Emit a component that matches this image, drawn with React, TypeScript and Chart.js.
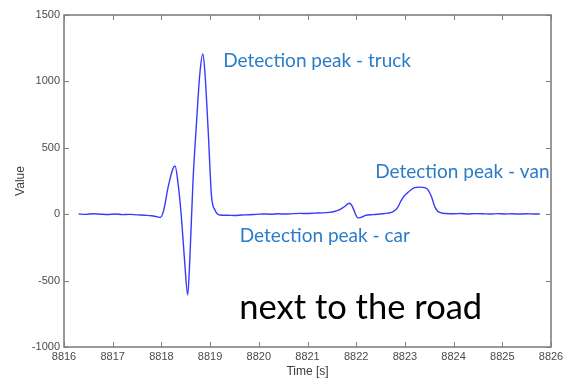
import React, { useEffect, useRef } from "react";
import { Chart, registerables } from "chart.js";

Chart.register(...registerables);

// Sensor trace: time stamps [s] and measured value
const timeS = [
  8816.3, 8816.45, 8816.6, 8816.75, 8816.9, 8817.05, 8817.2, 8817.35, 8817.5, 8817.65,
  8817.8, 8817.92, 8817.98, 8818.04, 8818.14, 8818.24, 8818.28, 8818.35, 8818.41, 8818.48,
  8818.54, 8818.58, 8818.65, 8818.72, 8818.79, 8818.85, 8818.89, 8818.96, 8819.03, 8819.1,
  8819.2, 8819.35, 8819.5, 8819.65, 8819.8, 8819.95, 8820.1, 8820.25, 8820.4, 8820.55,
  8820.7, 8820.85, 8821.0, 8821.15, 8821.3, 8821.45, 8821.55, 8821.65, 8821.75, 8821.86,
  8821.93, 8821.98, 8822.04, 8822.1, 8822.2, 8822.35, 8822.5, 8822.65, 8822.76, 8822.85,
  8822.92, 8822.98, 8823.05, 8823.12, 8823.2, 8823.3, 8823.42, 8823.48, 8823.55, 8823.6,
  8823.66, 8823.74, 8823.85, 8824.0, 8824.15, 8824.3, 8824.45, 8824.6, 8824.75, 8824.9,
  8825.05, 8825.2, 8825.35, 8825.5, 8825.65, 8825.77,
];

const value = [
  2, -1, 3, 0, -2, 2, -3, -1, -5, -8,
  -12, -20, -24, 19, 207, 346, 363, 207, -19, -370,
  -608, -370, 258, 684, 1061, 1206, 1086, 634, 132, 32,
  -6, -8, -10, -6, -4, -1, 2, 0, 3, 1,
  4, 6, 5, 8, 10, 14, 20, 32, 55, 82,
  52, 5, -28, -24, -8, -3, 2, 8, 19, 50,
  100, 135, 160, 182, 200, 204, 198, 180, 128, 70,
  28, 10, 5, 3, 5, 2, 4, 3, 1, 4,
  2, 3, 1, 3, 2, 2,
];

const xTicks = [8816, 8817, 8818, 8819, 8820, 8821, 8822, 8823, 8824, 8825, 8826];
const yTicks = [-1000, -500, 0, 500, 1000, 1500];

const BLUE_TEXT = "#2b7cc7";

// Text notes placed in data coordinates (left edge, vertical centre)
const notes = [
  { text: "Detection peak - truck", t: 8819.27, v: 1156, color: BLUE_TEXT, size: 19 },
  { text: "Detection peak - van", t: 8822.39, v: 320, color: BLUE_TEXT, size: 19 },
  { text: "Detection peak - car", t: 8819.61, v: -164, color: BLUE_TEXT, size: 19 },
  { text: "next to the road", t: 8819.6, v: -706, color: "#000000", size: 34.5 },
];

const framePlugin = {
  id: "frame",
  afterDatasetsDraw(chart: any) {
    const { ctx, chartArea, scales } = chart;
    const { left, right, top, bottom } = chartArea;
    const tick = 5;
    ctx.save();
    ctx.strokeStyle = "#808080";
    ctx.lineWidth = 1;
    ctx.beginPath();
    for (const v of xTicks) {
      const px = Math.round(scales.x.getPixelForValue(v)) + 0.5;
      ctx.moveTo(px, bottom);
      ctx.lineTo(px, bottom - tick);
      ctx.moveTo(px, top);
      ctx.lineTo(px, top + tick);
    }
    for (const v of yTicks) {
      const py = Math.round(scales.y.getPixelForValue(v)) + 0.5;
      ctx.moveTo(left, py);
      ctx.lineTo(left + tick, py);
      ctx.moveTo(right, py);
      ctx.lineTo(right - tick, py);
    }
    ctx.stroke();
    ctx.lineWidth = 1.6;
    ctx.strokeRect(left, top, right - left, bottom - top);
    ctx.restore();
  },
};

const notesPlugin = {
  id: "notes",
  afterDraw(chart: any) {
    const { ctx, scales } = chart;
    ctx.save();
    ctx.textBaseline = "middle";
    ctx.textAlign = "left";
    for (const n of notes) {
      ctx.font = `${n.size}px Lato, "Open Sans", sans-serif`;
      ctx.fillStyle = n.color;
      ctx.fillText(n.text, scales.x.getPixelForValue(n.t), scales.y.getPixelForValue(n.v));
    }
    ctx.restore();
  },
};

export default function App() {
  const canvasRef = useRef<HTMLCanvasElement | null>(null);

  useEffect(() => {
    if (!canvasRef.current) return;
    const tickFont = { family: '"Liberation Sans", Arial, sans-serif', size: 11 };
    const chart = new Chart(canvasRef.current, {
      type: "line",
      data: {
        datasets: [
          {
            data: timeS.map((t, i) => ({ x: t, y: value[i] })),
            borderColor: "#3a3aff",
            borderWidth: 1.4,
            pointRadius: 0,
            cubicInterpolationMode: "monotone",
            fill: false,
          },
        ],
      },
      options: {
        animation: false,
        responsive: false,
        maintainAspectRatio: false,
        layout: { padding: { top: 15, right: 21, left: 0, bottom: 0 } },
        plugins: { legend: { display: false }, tooltip: { enabled: false } },
        scales: {
          x: {
            type: "linear",
            min: 8816,
            max: 8826,
            afterBuildTicks: (s: any) => {
              s.ticks = xTicks.map((v) => ({ value: v }));
            },
            afterFit: (s: any) => {
              s.height = 34;
            },
            grid: { display: false, drawTicks: false },
            border: { display: false },
            ticks: {
              color: "#4a4a4a",
              font: tickFont,
              padding: 3,
              maxRotation: 0,
              autoSkip: false,
              callback: (v: any) => String(v),
            },
            title: {
              display: true,
              text: "Time [s]",
              color: "#3a3a3a",
              font: { family: '"Liberation Sans", Arial, sans-serif', size: 12 },
              padding: { top: 0, bottom: 2 },
            },
          },
          y: {
            type: "linear",
            min: -1000,
            max: 1500,
            afterBuildTicks: (s: any) => {
              s.ticks = yTicks.map((v) => ({ value: v }));
            },
            afterFit: (s: any) => {
              s.width = 64;
            },
            grid: { display: false, drawTicks: false },
            border: { display: false },
            ticks: {
              color: "#4a4a4a",
              font: tickFont,
              padding: 4,
              autoSkip: false,
              callback: (v: any) => String(v),
            },
            title: {
              display: true,
              text: "Value",
              color: "#3a3a3a",
              font: { family: '"Liberation Sans", Arial, sans-serif', size: 12 },
              padding: { top: 13, bottom: 0 },
            },
          },
        },
      },
      plugins: [framePlugin, notesPlugin],
    } as any);
    return () => chart.destroy();
  }, []);

  return (
    <div
      style={{
        position: "fixed",
        left: 0,
        top: 0,
        width: 572,
        height: 381,
        background: "#ffffff",
      }}
    >
      <canvas ref={canvasRef} width={572} height={381} style={{ width: 572, height: 381 }} />
    </div>
  );
}
